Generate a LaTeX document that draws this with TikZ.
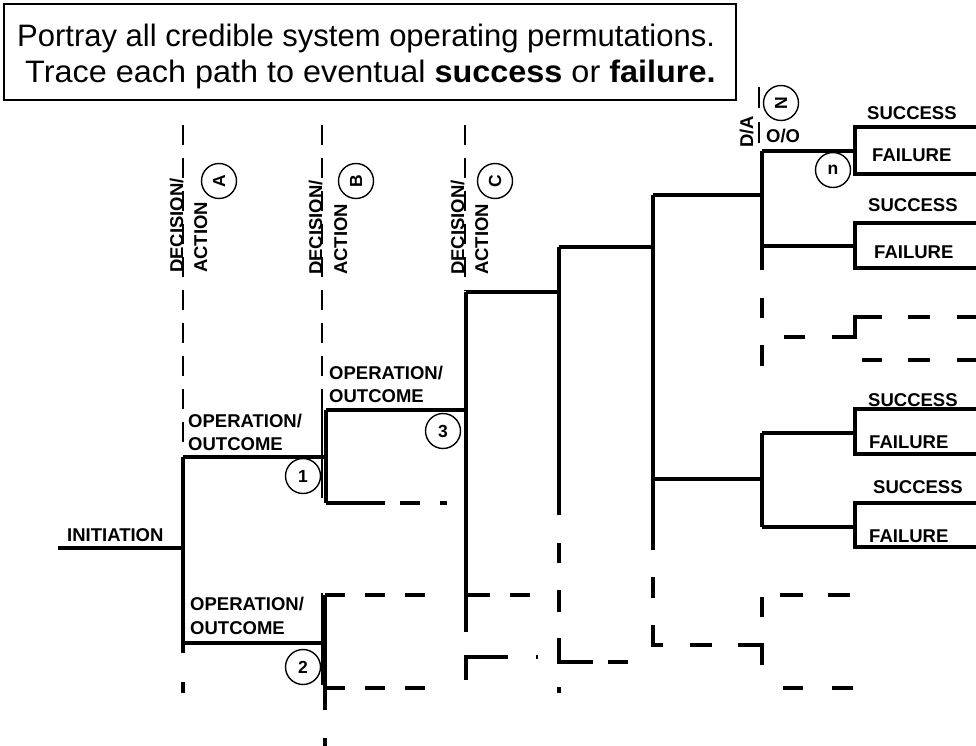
\documentclass[tikz,border=0pt]{standalone}
\usepackage{fontspec}
\setmainfont{Liberation Sans}
\usetikzlibrary{positioning}

\begin{document}
\begin{tikzpicture}[
    x=1pt, y=-1pt,
    tree/.style={line width=3.2pt},
    guide/.style={line width=2pt, dash pattern=on 20pt off 13pt},
    rail/.style={line width=1.6pt},
    lbl/.style={font=\bfseries\fontsize{18.5}{22}\selectfont, inner sep=0pt, anchor=base west},
    vlbl/.style={lbl, rotate=90},
    tag/.style={circle, draw, line width=1.4pt, minimum size=35pt, inner sep=0pt,
                font=\bfseries\fontsize{17.5}{17.5}\selectfont}
]
\useasboundingbox (0,0) rectangle (976,746);

% note box
\draw[line width=1.4pt] (4,4) rectangle (736,100);
\node[inner sep=0pt, anchor=base west, font=\fontsize{31}{36}\selectfont] (note1) at (17,47)
    {Portray all credible system operating permutations.};
\node[inner sep=0pt, anchor=base west, xscale=1.045, font=\fontsize{31}{36}\selectfont] (note2) at (25,83)
    {Trace each path to eventual \textbf{success} or \textbf{failure.}};

% decision/action columns
\draw[guide] (183,125) -- (183,455);
\draw[guide] (322,125) -- (322,407);
\draw[guide] (465,125) -- (465,291);
\draw[rail] (322,407) -- (322,498);
\draw[rail] (322,593) -- (322,685);
\draw[rail] (759,87) -- (759,108);
\draw[rail] (759,122) -- (759,143);

\node[vlbl] (decA) at (183,273) {DECISION/};
\node[vlbl] (actA) at (207,273) {ACTION};
\node[vlbl] (decB) at (322,275) {DECISION/};
\node[vlbl] (actB) at (347,275) {ACTION};
\node[vlbl] (decC) at (464,275) {DECISION/};
\node[vlbl] (actC) at (488,275) {ACTION};
\node[vlbl] (decN) at (753,148) {D/A};
\node[lbl] (opN) at (766,143) {O/O};

\node[tag, rotate=90] (A) at (219,181) {A};
\node[tag, rotate=90] (B) at (356,181) {B};
\node[tag, rotate=90] (C) at (495,181) {C};
\node[tag, rotate=90] (N) at (781,103) {N};
\node[tag] (n) at (833,170) {n};
\node[tag] (1) at (303,476) {1};
\node[tag] (2) at (303,667) {2};
\node[tag] (3) at (443,431) {3};

% initiation and first split
\node[lbl] (init) at (67,541) {INITIATION};
\draw[tree] (58,548) -- (183,548);
\draw[tree] (183,457) -- (183,653);
\draw[tree] (183,682) -- (183,693);
\draw[tree] (183,457) -- (326,457);
\draw[tree] (183,643) -- (326,643);
\node[lbl] (opA1) at (188,427) {OPERATION/};
\node[lbl] (ocA1) at (188,450) {OUTCOME};
\node[lbl] (opA2) at (190,610) {OPERATION/};
\node[lbl] (ocA2) at (190,634) {OUTCOME};

% second split
\draw[tree] (326,410) -- (326,503);
\draw[tree] (326,410) -- (467,410);
\draw[tree] (326,503) -- (385,503);
\draw[tree, dash pattern=on 20pt off 20pt] (400,503) -- (447,503);
\node[lbl] (opB) at (329,379) {OPERATION/};
\node[lbl] (ocB) at (329,402) {OUTCOME};
\draw[tree] (325,595) -- (325,710);
\draw[tree] (325,738) -- (325,746);
\draw[tree, dash pattern=on 20pt off 20pt] (325,595) -- (425,595);
\draw[tree, dash pattern=on 20pt off 20pt] (325,688) -- (425,688);

% third split and onward
\draw[tree] (466,292) -- (466,632);
\draw[tree] (466,292) -- (559,292);
\draw[tree, dash pattern=on 24pt off 20pt] (466,595) -- (530,595);
\draw[tree] (466,680) -- (466,657) -- (508,657);
\draw[tree] (536,657) -- (538,657);

\draw[tree] (559,247) -- (559,515);
\draw[tree] (559,247) -- (653,247);
\draw[tree] (559,543) -- (559,563);
\draw[tree] (559,590) -- (559,612);
\draw[tree] (559,638) -- (559,662) -- (593,662);
\draw[tree] (608,662) -- (628,662);
\draw[tree] (559,687) -- (559,693);

\draw[tree] (653,195) -- (653,550);
\draw[tree] (653,195) -- (762,195);
\draw[tree] (653,479) -- (762,479);
\draw[tree] (653,577) -- (653,598);
\draw[tree] (653,625) -- (653,645) -- (663,645);
\draw[tree] (690,645) -- (712,645);
\draw[tree] (738,645) -- (762,645) -- (762,665);
\draw[tree] (762,597) -- (762,617);
\draw[tree] (780,595) -- (803,595);
\draw[tree] (828,595) -- (850,595);
\draw[tree] (783,688) -- (803,688);
\draw[tree] (832,688) -- (853,688);

% last split, upper
\draw[tree] (762,151) -- (762,270);
\draw[tree] (762,151) -- (855,151);
\draw[tree] (762,246) -- (855,246);
\draw[tree] (976,127) -- (855,127) -- (855,174) -- (976,174);
\draw[tree] (976,223) -- (855,223) -- (855,268) -- (976,268);
\draw[tree] (762,298) -- (762,318);
\draw[tree] (762,345) -- (762,366);
\draw[tree] (784,337) -- (805,337);
\draw[tree] (832,337) -- (855,337) -- (855,317) -- (882,317);
\draw[tree] (908,317) -- (930,317);
\draw[tree] (957,317) -- (976,317);
\draw[tree] (862,360) -- (882,360);
\draw[tree] (908,360) -- (930,360);
\draw[tree] (957,360) -- (976,360);
\node[lbl] (s1) at (867,120) {SUCCESS};
\node[lbl] (f1) at (872,162) {FAILURE};
\node[lbl] (s2) at (868,211) {SUCCESS};
\node[lbl] (f2) at (874,258) {FAILURE};

% last split, lower
\draw[tree] (762,433) -- (762,527);
\draw[tree] (762,433) -- (855,433);
\draw[tree] (762,527) -- (855,527);
\draw[tree] (976,409) -- (855,409) -- (855,454) -- (976,454);
\draw[tree] (976,503) -- (855,503) -- (855,547) -- (976,547);
\node[lbl] (s3) at (868,406) {SUCCESS};
\node[lbl] (f3) at (869,448) {FAILURE};
\node[lbl] (s4) at (873,493) {SUCCESS};
\node[lbl] (f4) at (869,542) {FAILURE};
\end{tikzpicture}
\end{document}
